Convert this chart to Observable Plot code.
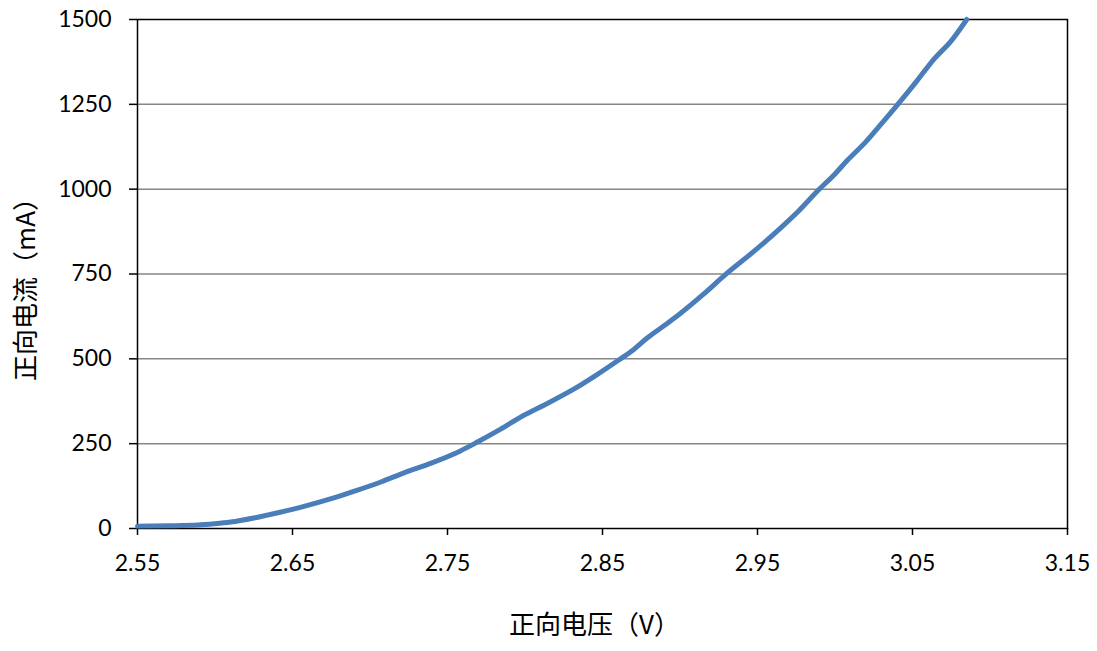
<!DOCTYPE html>
<html>
<head>
<meta charset="utf-8">
<script src="https://cdn.jsdelivr.net/npm/d3@7"></script>
<script src="https://cdn.jsdelivr.net/npm/@observablehq/plot@0.6"></script>
<style>
  html, body { margin: 0; padding: 0; background: #fff; }
  #chart svg { display: block; }
</style>
</head>
<body>
<div id="chart"></div>
<script>
// Forward voltage (V)
const voltage = [2.550, 2.570, 2.589, 2.600, 2.610, 2.625, 2.642, 2.658, 2.675, 2.690, 2.707, 2.722, 2.739, 2.758, 2.769, 2.784, 2.799, 2.815, 2.832, 2.846, 2.860, 2.870, 2.879, 2.891, 2.900, 2.915, 2.930, 2.948, 2.965, 2.977, 2.989, 3.000, 3.008, 3.020, 3.030, 3.040, 3.053, 3.064, 3.075, 3.085];
// Forward current (mA)
const current = [7, 8, 10, 14, 19, 31, 48, 66, 88, 110, 137, 164, 192, 228, 254, 292, 333, 370, 412, 452, 495, 527, 562, 602, 633, 690, 751, 818, 886, 938, 996, 1045, 1085, 1140, 1193, 1247, 1320, 1384, 1437, 1500];
const yTicks = [0, 250, 500, 750, 1000, 1250, 1500];
const xTicks = [2.55, 2.65, 2.75, 2.85, 2.95, 3.05, 3.15];
const xLabel = "正向电压（V）";
const yLabel = "正向电流（mA）";

const data = voltage.map((v, i) => ({v, c: current[i]}));

const chart = Plot.plot({
  width: 1097,
  height: 651,
  marginLeft: 137,
  marginRight: 30,
  marginTop: 19,
  marginBottom: 123,
  style: {fontFamily: "Lato, 'Noto Sans CJK SC', sans-serif", fontSize: "23px", color: "#000", background: "#fff"},
  x: {domain: [2.55, 3.15]},
  y: {domain: [0, 1500]},
  marks: [
    Plot.ruleY(yTicks.filter(t => t > 0 && t < 1500), {stroke: "#868686", strokeWidth: 1.5}),
    Plot.frame({stroke: "#000", strokeWidth: 1.5}),
    Plot.axisX({ticks: xTicks, tickFormat: ".2f", tickSize: 7, tickPadding: 19, strokeWidth: 1.5, fontSize: 23, label: null}),
    Plot.axisY({ticks: yTicks, tickSize: 8, tickPadding: 18, strokeWidth: 1.5, fontSize: 23, tickFormat: d => String(d), label: null}),
    Plot.text([xLabel], {frameAnchor: "bottom", textAnchor: "middle", dx: -8, dy: 105, fontSize: 26, fill: "#000",
      fontFamily: "'Noto Sans CJK SC', sans-serif"}),
    Plot.text([yLabel], {frameAnchor: "left", textAnchor: "middle", dx: -111, dy: 9, rotate: -90, fontSize: 26, fill: "#000",
      fontFamily: "'Noto Sans CJK SC', sans-serif"}),
    Plot.line(data, {x: "v", y: "c", stroke: "#4a7ebb", strokeWidth: 5, curve: "monotone-x", strokeLinejoin: "round", strokeLinecap: "round"})
  ]
});
document.getElementById("chart").append(chart);
</script>
</body>
</html>
